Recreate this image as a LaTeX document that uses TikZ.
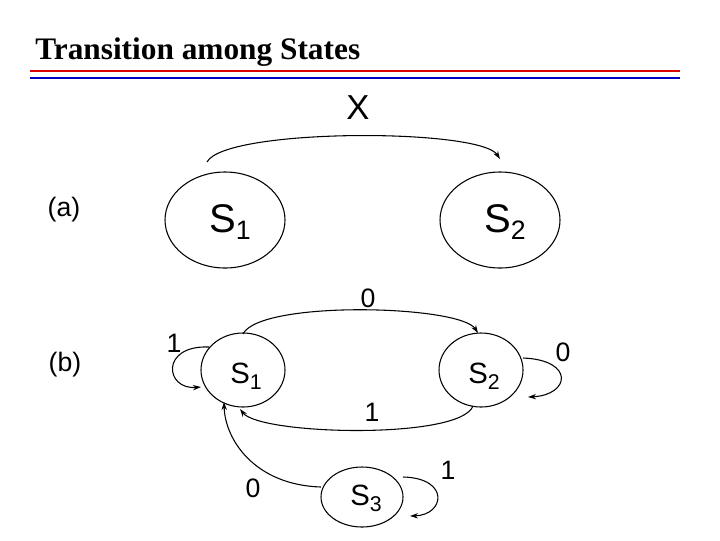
\documentclass[tikz,border=0pt]{standalone}
\usepackage{fontspec}
\setmainfont{Liberation Sans}
\newfontfamily\titlefont{Liberation Serif}
\usetikzlibrary{arrows.meta}
\begin{document}
\begin{tikzpicture}[x=0.75pt,y=-0.75pt,
  st/.style={draw,line width=0.8pt},
  ar/.style={line width=0.8pt,-{Stealth[length=6pt,width=4pt]}},
  lb/.style={font=\fontsize{20}{20}\selectfont}]
\useasboundingbox (0,0) rectangle (720,540);
\node[anchor=base west,inner sep=0pt,font=\titlefont\bfseries\fontsize{23.5}{24}\selectfont] (title) at (35,59) {Transition among States};
\draw[red!85!black,line width=2.2pt] (30,71) -- (680,71);
\draw[blue!75!black,line width=2.2pt] (30,78) -- (680,78);
% (a)
\node[lb] (la) at (64,210) {(a)};
\node[font=\fontsize{26}{26}\selectfont] (X) at (358,108) {X};
\draw[st] (225,220) ellipse [x radius=60,y radius=48];
\draw[st] (500,220) ellipse [x radius=60,y radius=48];
\node[font=\fontsize{30}{30}\selectfont] (a1) at (230,222) {S\raisebox{-0.3ex}{\fontsize{20}{20}\selectfont 1}};
\node[font=\fontsize{30}{30}\selectfont] (a2) at (505,222) {S\raisebox{-0.3ex}{\fontsize{20}{20}\selectfont 2}};
\coordinate (a1t) at (207,162);
\coordinate (a2t) at (500,159);
\draw[ar] (a1t) .. controls (225,128) and (480,128) .. (a2t);
% (b)
\node[lb] (lbb) at (65,365) {(b)};
\draw[st] (243,370) ellipse [x radius=42,y radius=37];
\draw[st] (481,370) ellipse [x radius=42,y radius=37];
\draw[st] (362,497) ellipse [x radius=41,y radius=30];
\node[font=\fontsize{22}{22}\selectfont] (b1) at (246,376) {S\raisebox{-0.4ex}{\fontsize{16}{16}\selectfont 1}};
\node[font=\fontsize{22}{22}\selectfont] (b2) at (484,376) {S\raisebox{-0.4ex}{\fontsize{16}{16}\selectfont 2}};
\node[font=\fontsize{22}{22}\selectfont] (b3) at (366,498) {S\raisebox{-0.4ex}{\fontsize{16}{16}\selectfont 3}};
\coordinate (p1) at (243,334); \coordinate (p2) at (478,333);
\draw[ar] (p1) .. controls (260,300) and (460,305) .. (p2);
\node[lb] (l0a) at (368,298) {0};
\coordinate (q2) at (473,406); \coordinate (q1) at (240,409);
\draw[ar] (q2) .. controls (460,440) and (260,435) .. (q1);
\node[lb] (l1a) at (372,412) {1};
\coordinate (s1a) at (209,347); \coordinate (s1b) at (201,387);
\draw[ar] (s1a) .. controls (160,345) and (165,390) .. (s1b);
\node[lb] (l1b) at (174,343) {1};
\coordinate (s2a) at (523,358); \coordinate (s2b) at (528,397);
\draw[ar] (s2a) .. controls (575,360) and (570,395) .. (s2b);
\node[lb] (l0b) at (563,352) {0};
\coordinate (s3a) at (403,477); \coordinate (s3b) at (410,516);
\draw[ar] (s3a) .. controls (450,478) and (445,515) .. (s3b);
\node[lb] (l1c) at (448,470) {1};
\coordinate (t3) at (321,487); \coordinate (t1) at (224,402);
\draw[ar] (t3) .. controls (255,485) and (225,440) .. (t1);
\node[lb] (l0c) at (253,488) {0};
\end{tikzpicture}
\end{document}
